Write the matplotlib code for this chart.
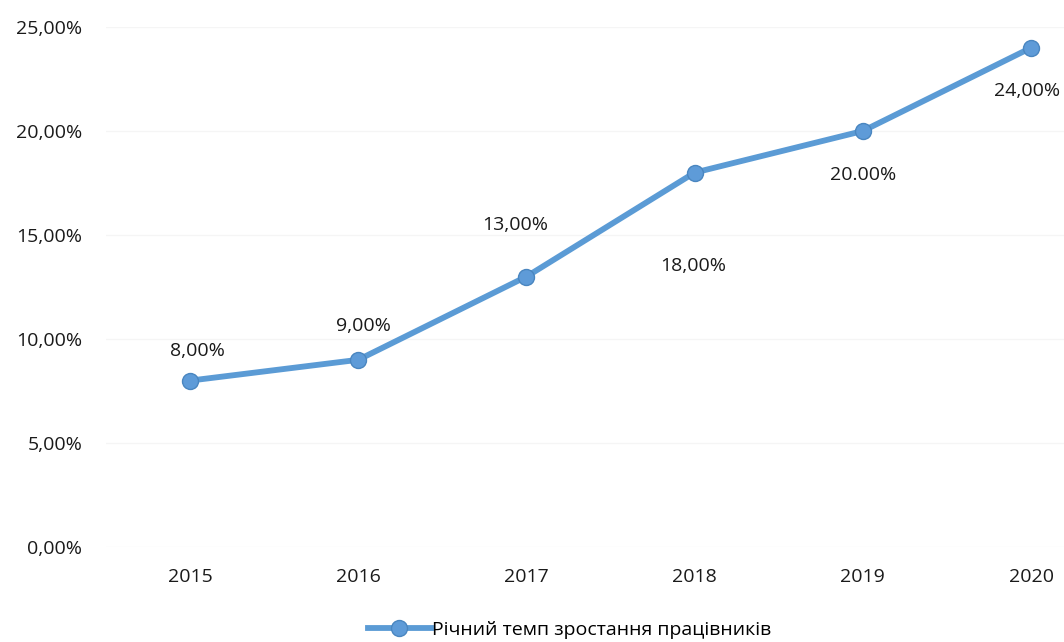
import numpy as np
import matplotlib.pyplot as plt
from matplotlib.ticker import FuncFormatter

plt.rcParams['font.family'] = ['Open Sans', 'DejaVu Sans']

years = ['2015', '2016', '2017', '2018', '2019', '2020']
growth = [8.0, 9.0, 13.0, 18.0, 20.0, 24.0]
labels = ['8,00%', '9,00%', '13,00%', '18,00%', '20.00%', '24,00%']
series_name = 'Річний темп зростання працівників'
label_offsets = [(5, 21), (4, 24), (-8, 37), (-1, -67), (0, -32), (-3, -31)]

line_color = '#5B9BD5'
fs = 14

fig = plt.figure(figsize=(10.64, 6.42), dpi=100)
ax = fig.add_axes([106 / 1064, 1 - 547 / 642, (1064 - 106) / 1064, (547 - 27) / 642])

x = np.arange(len(years))
ax.plot(x, growth, color=line_color, lw=4.2, marker='o', ms=11.5,
        markerfacecolor='#5E9BD8', markeredgecolor='#4A86C0', markeredgewidth=1,
        label=series_name, zorder=3)

for xi, yi, lab, off in zip(x, growth, labels, label_offsets):
    ax.annotate(lab, (xi, yi), xytext=off, textcoords='offset points',
                ha='center', va='center', fontsize=fs, color='#1a1a1a')

ax.set_xlim(-0.5, 5 + 33 / 168.2)
ax.set_ylim(0, 25)
ax.set_yticks([0, 5, 10, 15, 20, 25])
ax.yaxis.set_major_formatter(FuncFormatter(lambda v, p: f'{v:.2f}%'.replace('.', ',')))
ax.set_xticks(x)
ax.set_xticklabels(years)
ax.tick_params(length=0, labelsize=fs, colors='#1a1a1a')
ax.tick_params(axis='y', pad=17)
ax.tick_params(axis='x', pad=15)
ax.grid(axis='y', color='#f5f5f5', lw=1)
ax.set_axisbelow(True)
for s in ax.spines.values():
    s.set_visible(False)

fig.legend(loc='center', bbox_to_anchor=(570 / 1064, 1 - 630 / 642), frameon=False,
           fontsize=fs, handlelength=3.2, handletextpad=0.1)

fig.savefig('out.png', dpi=100)
